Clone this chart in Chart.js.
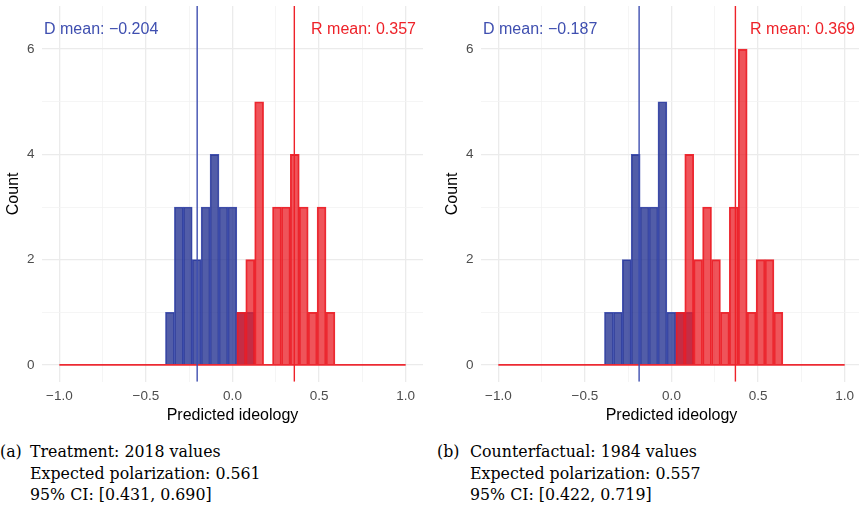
<!DOCTYPE html>
<html>
<head>
<meta charset="utf-8">
<script src="https://cdn.jsdelivr.net/npm/chart.js@4.4.3/dist/chart.umd.min.js"></script>
<style>
  html, body { margin: 0; padding: 0; background: #fff; }
  body { width: 859px; height: 508px; position: relative; overflow: hidden; }
  .panel { position: absolute; top: 0; width: 430px; height: 427px; }
  .caption {
    position: absolute; top: 441px;
    font-family: 'DejaVu Serif', 'Liberation Serif', serif;
    font-size: 15.8px; line-height: 21.7px; color: #000;
    display: flex; white-space: nowrap;
  }
  .caption .tag { display: inline-block; }
</style>
</head>
<body>
<div class="panel" style="left:0"><canvas id="chart-a" width="430" height="427"></canvas></div>
<div class="panel" style="left:439px"><canvas id="chart-b" width="430" height="427"></canvas></div>

<div class="caption" style="left:0">
  <span class="tag" style="width:30px">(a)</span>
  <div>Treatment: 2018 values<br>Expected polarization: 0.561<br>95% CI: [0.431, 0.690]</div>
</div>
<div class="caption" style="left:437px">
  <span class="tag" style="width:33px">(b)</span>
  <div>Counterfactual: 1984 values<br>Expected polarization: 0.557<br>95% CI: [0.422, 0.719]</div>
</div>

<script>
// histogram bins (centres), shared by both panels
const binCenters = [-0.3613, -0.3098, -0.2583, -0.2068, -0.1553, -0.1038, -0.0523, -0.0008,
    0.0508, 0.1023, 0.1538, 0.2053, 0.2568, 0.3083, 0.3598, 0.4113, 0.4628, 0.5143, 0.5658, 0.6173];

// (a) treatment
const treatDem = [1, 3, 3, 2, 3, 4, 3, 3, 1, 1];
const treatRep = [0, 0, 0, 0, 0, 0, 0, 0, 1, 2, 5, 0, 3, 3, 4, 3, 1, 3, 1];
const treatDemMean = -0.204;
const treatRepMean = 0.357;

// (b) counterfactual
const cfDem = [1, 1, 2, 4, 3, 3, 5, 1, 1, 1];
const cfRep = [0, 0, 0, 0, 0, 0, 0, 0, 1, 4, 2, 3, 2, 1, 3, 6, 1, 2, 2, 1];
const cfDemMean = -0.187;
const cfRepMean = 0.369;

const xTicks = [-1, -0.75, -0.5, -0.25, 0, 0.25, 0.5, 0.75, 1];
const yTicks = [0, 1, 2, 3, 4, 5, 6];
const xRange = [-1.1, 1.1];
const yRange = [-0.32, 6.82];
const histRange = [-1, 1];
const labelY = 6.38;

const DEM_FILL = 'rgba(36, 50, 145, 0.79)';
const DEM_LINE = 'rgba(50, 66, 168, 0.9)';
const REP_FILL = 'rgba(234, 30, 38, 0.76)';
const REP_LINE = 'rgba(236, 32, 40, 0.95)';
const DEM_MEAN = '#3F4FB0';
const REP_MEAN = '#EE2229';

Chart.defaults.font.family = "'Liberation Sans', Arial, sans-serif";
Chart.defaults.animation = false;

function toPoints(counts) {
    return counts.map((c, i) => ({ x: binCenters[i], y: c }));
}

function fmtX(v) {
    const s = Math.abs(v).toFixed(1);
    return v < 0 ? '\u2212' + s : s;
}

function fmtMean(v) {
    const s = Math.abs(v).toFixed(3);
    return v < 0 ? '\u2212' + s : s;
}

const meanLabels = {
    id: 'meanLabels',
    afterDatasetsDraw(chart, args, opts) {
        const { ctx, chartArea, scales } = chart;
        const y = scales.y.getPixelForValue(labelY);
        ctx.save();
        ctx.font = "16px 'Liberation Sans', Arial, sans-serif";
        ctx.textBaseline = 'middle';
        ctx.fillStyle = DEM_MEAN;
        ctx.textAlign = 'left';
        ctx.fillText('D mean: ' + fmtMean(opts.dem), chartArea.left + 2, y);
        ctx.fillStyle = REP_MEAN;
        ctx.textAlign = 'right';
        ctx.fillText('R mean: ' + fmtMean(opts.rep), chartArea.right - 7, y);
        ctx.restore();
    }
};

function makeChart(id, dem, rep, demMean, repMean) {
    return new Chart(document.getElementById(id), {
        type: 'bar',
        data: {
            datasets: [
                {
                    type: 'line', order: 0,
                    data: [{ x: demMean, y: yRange[0] }, { x: demMean, y: yRange[1] }],
                    borderColor: DEM_MEAN, borderWidth: 1.4, pointRadius: 0
                },
                {
                    type: 'line', order: 0,
                    data: [{ x: repMean, y: yRange[0] }, { x: repMean, y: yRange[1] }],
                    borderColor: REP_MEAN, borderWidth: 1.4, pointRadius: 0
                },
                {
                    type: 'line', order: 1,
                    data: [{ x: histRange[0], y: 0 }, { x: histRange[1], y: 0 }],
                    borderColor: REP_LINE, borderWidth: 1.6, pointRadius: 0
                },
                {
                    label: 'R', order: 2, grouped: false,
                    data: toPoints(rep),
                    backgroundColor: REP_FILL, borderColor: REP_LINE, borderWidth: 1.2,
                    barPercentage: 1, categoryPercentage: 1
                },
                {
                    label: 'D', order: 3, grouped: false,
                    data: toPoints(dem),
                    backgroundColor: DEM_FILL, borderColor: DEM_LINE, borderWidth: 1,
                    barPercentage: 1, categoryPercentage: 1
                }
            ]
        },
        options: {
            responsive: false,
            layout: { padding: { top: 6, right: 7, bottom: 0, left: 0 } },
            plugins: {
                legend: { display: false },
                tooltip: { enabled: false },
                meanLabels: { dem: demMean, rep: repMean }
            },
            scales: {
                x: {
                    type: 'linear', min: xRange[0], max: xRange[1], offset: false,
                    afterBuildTicks: (s) => { s.ticks = xTicks.map(v => ({ value: v })); },
                    afterFit: (s) => { s.height = 45.3; },
                    grid: {
                        offset: false, drawTicks: false,
                        color: (c) => Number.isInteger(c.tick.value * 2) ? '#EBEBEB' : '#F3F3F3',
                        lineWidth: (c) => Number.isInteger(c.tick.value * 2) ? 1.3 : 0.8
                    },
                    border: { display: false },
                    ticks: {
                        autoSkip: false, maxRotation: 0, padding: 6,
                        color: '#4D4D4D', font: { size: 13.5 },
                        callback: (v) => Number.isInteger(v * 2) ? fmtX(v) : ''
                    },
                    title: {
                        display: true, text: 'Predicted ideology', color: '#000',
                        font: { size: 16 }, padding: { top: 0, bottom: 2 }
                    }
                },
                y: {
                    min: yRange[0], max: yRange[1],
                    afterBuildTicks: (s) => { s.ticks = yTicks.map(v => ({ value: v })); },
                    afterFit: (s) => { s.width = 42; s.paddingTop = 0; s.paddingBottom = 0; },
                    grid: {
                        drawTicks: false,
                        color: (c) => c.tick.value % 2 === 0 ? '#EBEBEB' : '#F3F3F3',
                        lineWidth: (c) => c.tick.value % 2 === 0 ? 1.3 : 0.8
                    },
                    border: { display: false },
                    ticks: {
                        autoSkip: false, padding: 7.5,
                        color: '#4D4D4D', font: { size: 13.5 },
                        callback: (v) => v % 2 === 0 ? String(v) : ''
                    },
                    title: {
                        display: true, text: 'Count', color: '#000',
                        font: { size: 16 }, padding: { top: 3.5, bottom: 0 }
                    }
                }
            }
        },
        plugins: [meanLabels]
    });
}

makeChart('chart-a', treatDem, treatRep, treatDemMean, treatRepMean);
makeChart('chart-b', cfDem, cfRep, cfDemMean, cfRepMean);
</script>
</body>
</html>
